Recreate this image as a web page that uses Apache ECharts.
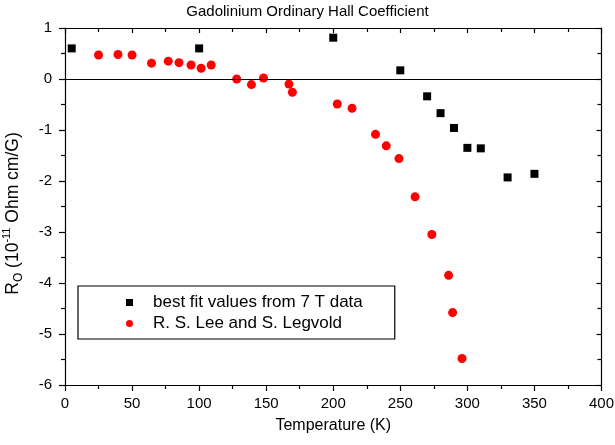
<!DOCTYPE html>
<html>
<head>
<meta charset="utf-8">
<title>Gadolinium Ordinary Hall Coefficient</title>
<script src="https://cdn.jsdelivr.net/npm/echarts@6/dist/echarts.min.js"></script>
<style>
  html, body { margin: 0; padding: 0; background: #fff; }
  #chart { width: 615px; height: 445px; }
</style>
</head>
<body>
<div id="chart"></div>
<script>
// Best fit values extracted from the 7 T measurements
const fitTemperature = [5, 100, 200, 250, 270, 280, 290, 300, 310, 330, 350];
const fitCoefficient = [0.6, 0.6, 0.81, 0.17, -0.34, -0.67, -0.96, -1.35, -1.36, -1.93, -1.86];

// Literature values (R. S. Lee and S. Legvold)
const leeTemperature = [25, 39.5, 50, 64.5, 77, 85, 94, 101.5, 109, 128, 139, 148, 167, 169.5,
  203, 214, 231.5, 239.5, 249, 261, 273.5, 286, 289, 296];
const leeCoefficient = [0.47, 0.48, 0.47, 0.31, 0.35, 0.32, 0.275, 0.21, 0.275, 0.0, -0.11, 0.02, -0.10, -0.26,
  -0.49, -0.575, -1.085, -1.31, -1.56, -2.31, -3.05, -3.85, -4.58, -5.48];

const seriesNames = ['best fit values from 7 T data', 'R. S. Lee and S. Legvold'];

// Axis ranges and tick steps
const xRange = [0, 400], xStep = 50;
const yRange = [-6, 1], yStep = 1;

const FONT = "'Liberation Sans', Arial, Helvetica, sans-serif";

function pairs(xs, ys) { return xs.map((x, i) => [x, ys[i]]); }

const chart = echarts.init(document.getElementById('chart'), null, { renderer: 'canvas' });

const mainAxisCommon = {
  axisLine: { show: true, onZero: false, lineStyle: { color: '#000', width: 1.2 } },
  axisTick: { show: true, inside: false, length: 6, lineStyle: { color: '#000', width: 1.2 } },
  minorTick: { show: true, splitNumber: 2, length: 4, lineStyle: { color: '#000', width: 1.2 } },
  splitLine: { show: false }
};

const mirrorAxisCommon = {
  axisLine: { show: true, onZero: false, lineStyle: { color: '#000', width: 1.2 } },
  axisTick: { show: true, inside: true, length: 5, lineStyle: { color: '#000', width: 1.2 } },
  minorTick: { show: true, splitNumber: 2, length: 4, lineStyle: { color: '#000', width: 1.2 } },
  splitLine: { show: false },
  axisLabel: { show: false }
};

chart.setOption({
  animation: false,
  backgroundColor: '#fff',
  textStyle: { fontFamily: FONT, color: '#000' },
  title: {
    text: 'Gadolinium Ordinary Hall Coefficient',
    left: 'center',
    top: 4,
    padding: 0,
    textStyle: { fontSize: 15, fontWeight: 'normal', color: '#000', fontFamily: FONT }
  },
  grid: { left: 65, right: 13.5, top: 28, bottom: 60, containLabel: false, outerBoundsMode: 'none' },
  legend: {
    orient: 'vertical',
    left: 78,
    top: 286,
    padding: [8, 32, 7, 48],
    itemGap: 4,
    itemWidth: 37,
    itemHeight: 7,
    borderColor: '#000',
    borderWidth: 1.2,
    borderRadius: 0,
    selectedMode: false,
    textStyle: { fontSize: 17, color: '#000', fontFamily: FONT },
    data: [
      { name: seriesNames[0], icon: 'path://M0,0L6,0L6,6L0,6Z' },
      { name: seriesNames[1], icon: 'circle' }
    ]
  },
  xAxis: [
    Object.assign({
      type: 'value', position: 'bottom',
      min: xRange[0], max: xRange[1], interval: xStep,
      name: 'Temperature (K)', nameLocation: 'middle', nameGap: 33,
      nameTextStyle: { fontSize: 16, color: '#000', fontFamily: FONT },
      axisLabel: { color: '#000', fontSize: 15, fontFamily: FONT, margin: 11 }
    }, mainAxisCommon),
    Object.assign({
      type: 'value', position: 'top',
      min: xRange[0], max: xRange[1], interval: xStep
    }, mirrorAxisCommon)
  ],
  yAxis: [
    Object.assign({
      type: 'value', position: 'left',
      min: yRange[0], max: yRange[1], interval: yStep,
      name: '{a|R}{b|O}{a| (10}{c|-11}{a| Ohm cm/G)}',
      nameLocation: 'middle', nameGap: 40,
      nameTextStyle: {
        color: '#000', fontFamily: FONT,
        padding: [0, 14, 0, 0],
        rich: {
          a: { fontSize: 17.5, lineHeight: 24, color: '#000', fontFamily: FONT },
          b: { fontSize: 12, verticalAlign: 'bottom', color: '#000', fontFamily: FONT },
          c: { fontSize: 11, verticalAlign: 'top', color: '#000', fontFamily: FONT }
        }
      },
      axisLabel: { color: '#000', fontSize: 15, fontFamily: FONT, margin: 13 }
    }, mainAxisCommon),
    Object.assign({
      type: 'value', position: 'right',
      min: yRange[0], max: yRange[1], interval: yStep
    }, mirrorAxisCommon)
  ],
  series: [
    {
      name: seriesNames[0],
      type: 'scatter',
      xAxisIndex: 0, yAxisIndex: 0,
      symbol: 'rect',
      symbolSize: 8,
      itemStyle: { color: '#000', opacity: 1 },
      data: pairs(fitTemperature, fitCoefficient),
      markLine: {
        silent: true,
        symbol: 'none',
        label: { show: false },
        lineStyle: { color: '#000', width: 1.2, type: 'solid' },
        data: [{ yAxis: 0 }]
      },
      z: 3
    },
    {
      name: seriesNames[1],
      type: 'scatter',
      xAxisIndex: 0, yAxisIndex: 0,
      symbol: 'circle',
      symbolSize: 9,
      itemStyle: { color: '#ff0000', opacity: 1 },
      data: pairs(leeTemperature, leeCoefficient),
      z: 3
    }
  ]
});
</script>
</body>
</html>
